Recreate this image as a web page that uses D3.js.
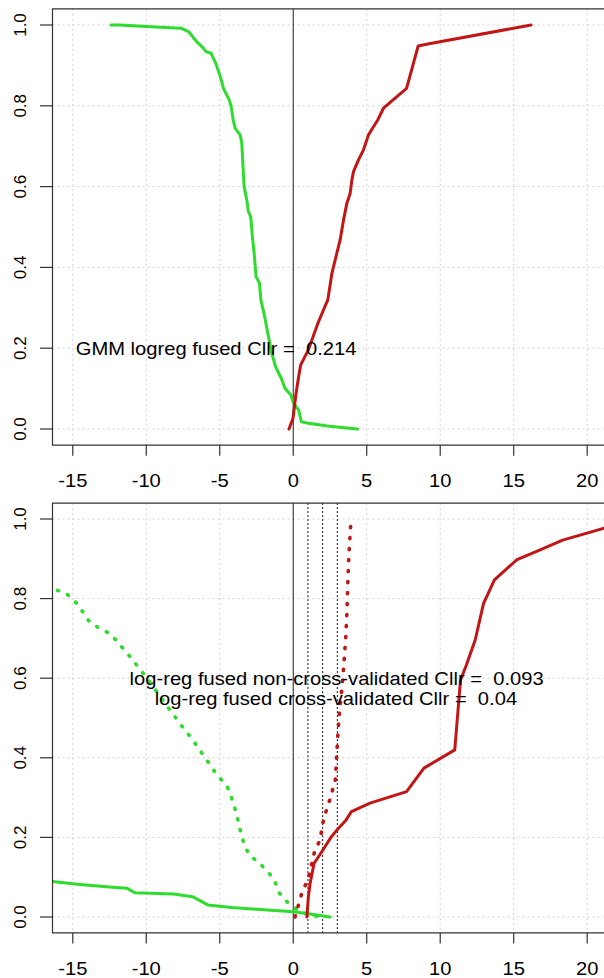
<!DOCTYPE html>
<html>
<head>
<meta charset="utf-8">
<script src="https://cdn.jsdelivr.net/npm/d3@7"></script>
<style>
  body { margin: 0; background: #fff; }
  svg { display: block; font-family: "Liberation Sans", Arial, sans-serif; }
  text { white-space: pre; }
</style>
</head>
<body>
<script>
var xTicks = [-15, -10, -5, 0, 5, 10, 15, 20];
var yTicks = [0, 0.2, 0.4, 0.6, 0.8, 1.0];
var yTickLabels = ["0.0", "0.2", "0.4", "0.6", "0.8", "1.0"];

// top panel: GMM logreg fused
var topNonTarget = [[-12.4,1.0],[-11.8,1.0],[-10.0,0.996],[-7.63,0.992],[-7.1,0.983],[-6.58,0.959],[-6.2,0.946],[-5.93,0.934],[-5.59,0.93],[-5.27,0.905],[-4.96,0.872],[-4.75,0.843],[-4.35,0.814],[-4.22,0.798],[-4.09,0.765],[-3.95,0.744],[-3.61,0.728],[-3.5,0.707],[-3.43,0.658],[-3.34,0.6],[-3.16,0.567],[-3.05,0.538],[-2.89,0.525],[-2.78,0.476],[-2.66,0.435],[-2.53,0.377],[-2.3,0.361],[-2.2,0.319],[-1.99,0.286],[-1.73,0.237],[-1.46,0.187],[-1.2,0.154],[-0.81,0.125],[-0.55,0.1],[-0.16,0.084],[0.03,0.064],[0.37,0.047],[0.55,0.018],[1.03,0.014],[2.33,0.0074],[3.65,0.0025],[4.38,0]];
var topTarget = [[-0.29,0],[-0.02,0.026],[0.19,0.088],[0.37,0.13],[0.5,0.158],[1.03,0.196],[1.68,0.262],[2.2,0.307],[2.35,0.319],[2.63,0.385],[2.85,0.418],[3.19,0.468],[3.42,0.517],[3.65,0.559],[3.87,0.583],[3.99,0.616],[4.1,0.637],[4.44,0.666],[4.78,0.691],[5.12,0.728],[5.46,0.748],[5.75,0.765],[6.14,0.794],[7.71,0.843],[8.5,0.948],[9.15,0.953],[16.18,1.0]];
var topLabel = "GMM logreg fused Cllr =  0.214";

// bottom panel: log-reg fused, solid = non-cross-validated, dotted = cross-validated
var botNonTarget = [[-20,0.095],[-16.38,0.089],[-14.7,0.082],[-12.08,0.074],[-11.3,0.072],[-10.78,0.061],[-8.15,0.058],[-6.84,0.051],[-6.19,0.038],[-5.79,0.03],[-4.22,0.024],[-2.26,0.019],[0.01,0.013],[0.93,0.009],[2.5,0]];
var botTarget = [[0.93,0],[1.03,0.051],[1.15,0.085],[1.42,0.135],[1.94,0.164],[2.6,0.202],[2.99,0.219],[3.6,0.244],[3.96,0.265],[5.22,0.286],[7.71,0.315],[8.89,0.374],[10.99,0.42],[11.12,0.478],[11.38,0.595],[11.78,0.633],[12.38,0.696],[12.95,0.788],[13.69,0.847],[15.19,0.897],[16.76,0.922],[18.33,0.947],[21.16,0.977],[24,1.0]];
var botNonTargetCV = [[-18,0.86],[-16.33,0.823],[-15.62,0.817],[-15.1,0.803],[-14.57,0.781],[-14.19,0.759],[-13.79,0.738],[-13.13,0.725],[-12.35,0.709],[-12.08,0.696],[-11.3,0.663],[-10.65,0.633],[-9.86,0.595],[-9.2,0.562],[-8.54,0.528],[-7.63,0.482],[-6.84,0.445],[-6.05,0.403],[-5.27,0.361],[-4.48,0.327],[-4.22,0.302],[-3.83,0.256],[-3.7,0.231],[-3.3,0.177],[-2.91,0.152],[-2.38,0.139],[-1.86,0.118],[-1.33,0.097],[-0.94,0.06],[-0.42,0.038],[0.24,0.019],[1.03,0.005],[1.94,0]];
var botTargetCV = [[0.12,0],[0.4,0.036],[0.6,0.062],[1.03,0.097],[1.42,0.16],[1.81,0.193],[2.08,0.248],[2.55,0.302],[2.86,0.344],[2.94,0.394],[3.04,0.461],[3.12,0.503],[3.25,0.553],[3.38,0.604],[3.57,0.7],[3.65,0.763],[3.72,0.847],[3.78,0.905],[3.91,0.985]];
var botThresholds = [1, 2, 3];
var botLabels = ["log-reg fused non-cross-validated Cllr =  0.093", "log-reg fused cross-validated Cllr =  0.04"];

var GREEN = "#2edc2e", RED = "#c21616";
var width = 604, height = 978;
var stretch = 1.12;

var svg = d3.select("body").append("svg")
  .attr("width", width)
  .attr("height", height);

var x = d3.scaleLinear().domain([-16.38, 23.9]).range([52.5, 644.5]);

function drawPanel(id, y0, y1, series, labels, thresholds) {
  var y = d3.scaleLinear().domain([0, 1]).range([y0, y1]);
  var top = y(1.04), bottom = y(-0.04), left = x.range()[0], right = x.range()[1];
  var g = svg.append("g");

  g.append("clipPath").attr("id", id)
    .append("rect").attr("x", left).attr("y", top)
    .attr("width", right - left).attr("height", bottom - top);

  // grid
  g.selectAll(".vgrid").data(xTicks).enter().append("line")
    .attr("x1", function(d) { return x(d); }).attr("x2", function(d) { return x(d); })
    .attr("y1", top).attr("y2", bottom)
    .attr("stroke", "#d3d3d3").attr("stroke-dasharray", "2,3");
  g.selectAll(".hgrid").data(yTicks).enter().append("line")
    .attr("x1", left).attr("x2", right)
    .attr("y1", function(d) { return y(d); }).attr("y2", function(d) { return y(d); })
    .attr("stroke", "#d3d3d3").attr("stroke-dasharray", "2,3");

  // zero line and thresholds
  g.append("line").attr("x1", x(0)).attr("x2", x(0)).attr("y1", top).attr("y2", bottom)
    .attr("stroke", "#222").attr("stroke-width", 1);
  g.selectAll(".thr").data(thresholds).enter().append("line")
    .attr("x1", function(d) { return x(d); }).attr("x2", function(d) { return x(d); })
    .attr("y1", top).attr("y2", bottom)
    .attr("stroke", "#111").attr("stroke-width", 1).attr("stroke-dasharray", "2,2");

  var line = d3.line()
    .x(function(d) { return x(d[0]); })
    .y(function(d) { return y(d[1]); });

  var lines = g.append("g").attr("clip-path", "url(#" + id + ")");
  series.forEach(function(s) {
    var p = lines.append("path").datum(s.data)
      .attr("d", line)
      .attr("fill", "none")
      .attr("stroke", s.color)
      .attr("stroke-linejoin", "round")
      .attr("stroke-linecap", "round");
    if (s.dotted) p.attr("stroke-width", 3.6).attr("stroke-dasharray", "1.2,9.8");
    else p.attr("stroke-width", 3);
  });

  // box
  g.append("path")
    .attr("d", "M" + right + "," + top + "H" + left + "V" + bottom + "H" + right)
    .attr("fill", "none").attr("stroke", "#333").attr("stroke-width", 1.2);

  // x axis
  g.selectAll(".xt").data(xTicks).enter().append("line")
    .attr("x1", function(d) { return x(d); }).attr("x2", function(d) { return x(d); })
    .attr("y1", bottom).attr("y2", bottom + 10.5)
    .attr("stroke", "#333").attr("stroke-width", 1.2);
  g.selectAll(".xl").data(xTicks).enter().append("text")
    .attr("transform", function(d) { return "translate(" + x(d) + "," + (bottom + 42) + ") scale(" + stretch + ",1)"; })
    .attr("text-anchor", "middle")
    .attr("font-size", 18)
    .text(function(d) { return d; });

  // y axis
  g.selectAll(".yt").data(yTicks).enter().append("line")
    .attr("x1", left - 12.5).attr("x2", left)
    .attr("y1", function(d) { return y(d); }).attr("y2", function(d) { return y(d); })
    .attr("stroke", "#333").attr("stroke-width", 1.2);
  g.selectAll(".yl").data(yTicks).enter().append("text")
    .attr("transform", function(d) { return "translate(26," + y(d) + ") rotate(-90)"; })
    .attr("text-anchor", "middle")
    .attr("font-size", 17)
    .text(function(d, i) { return yTickLabels[i]; });

  labels.forEach(function(l) {
    g.append("text")
      .attr("transform", "translate(" + x(l.x) + "," + (y(l.y) + 6.5) + ") scale(" + stretch + ",1)")
      .attr("text-anchor", "middle")
      .attr("font-size", 18)
      .text(l.text);
  });
}

drawPanel("clipTop", 429, 25, [
  { data: topNonTarget, color: GREEN },
  { data: topTarget, color: RED }
], [{ x: -5.25, y: 0.2, text: topLabel }], []);

drawPanel("clipBot", 917, 519, [
  { data: botNonTargetCV, color: GREEN, dotted: true },
  { data: botTargetCV, color: RED, dotted: true },
  { data: botNonTarget, color: GREEN },
  { data: botTarget, color: RED }
], [
  { x: 2.95, y: 0.6, text: botLabels[0] },
  { x: 2.9, y: 0.55, text: botLabels[1] }
], botThresholds);
</script>
</body>
</html>
